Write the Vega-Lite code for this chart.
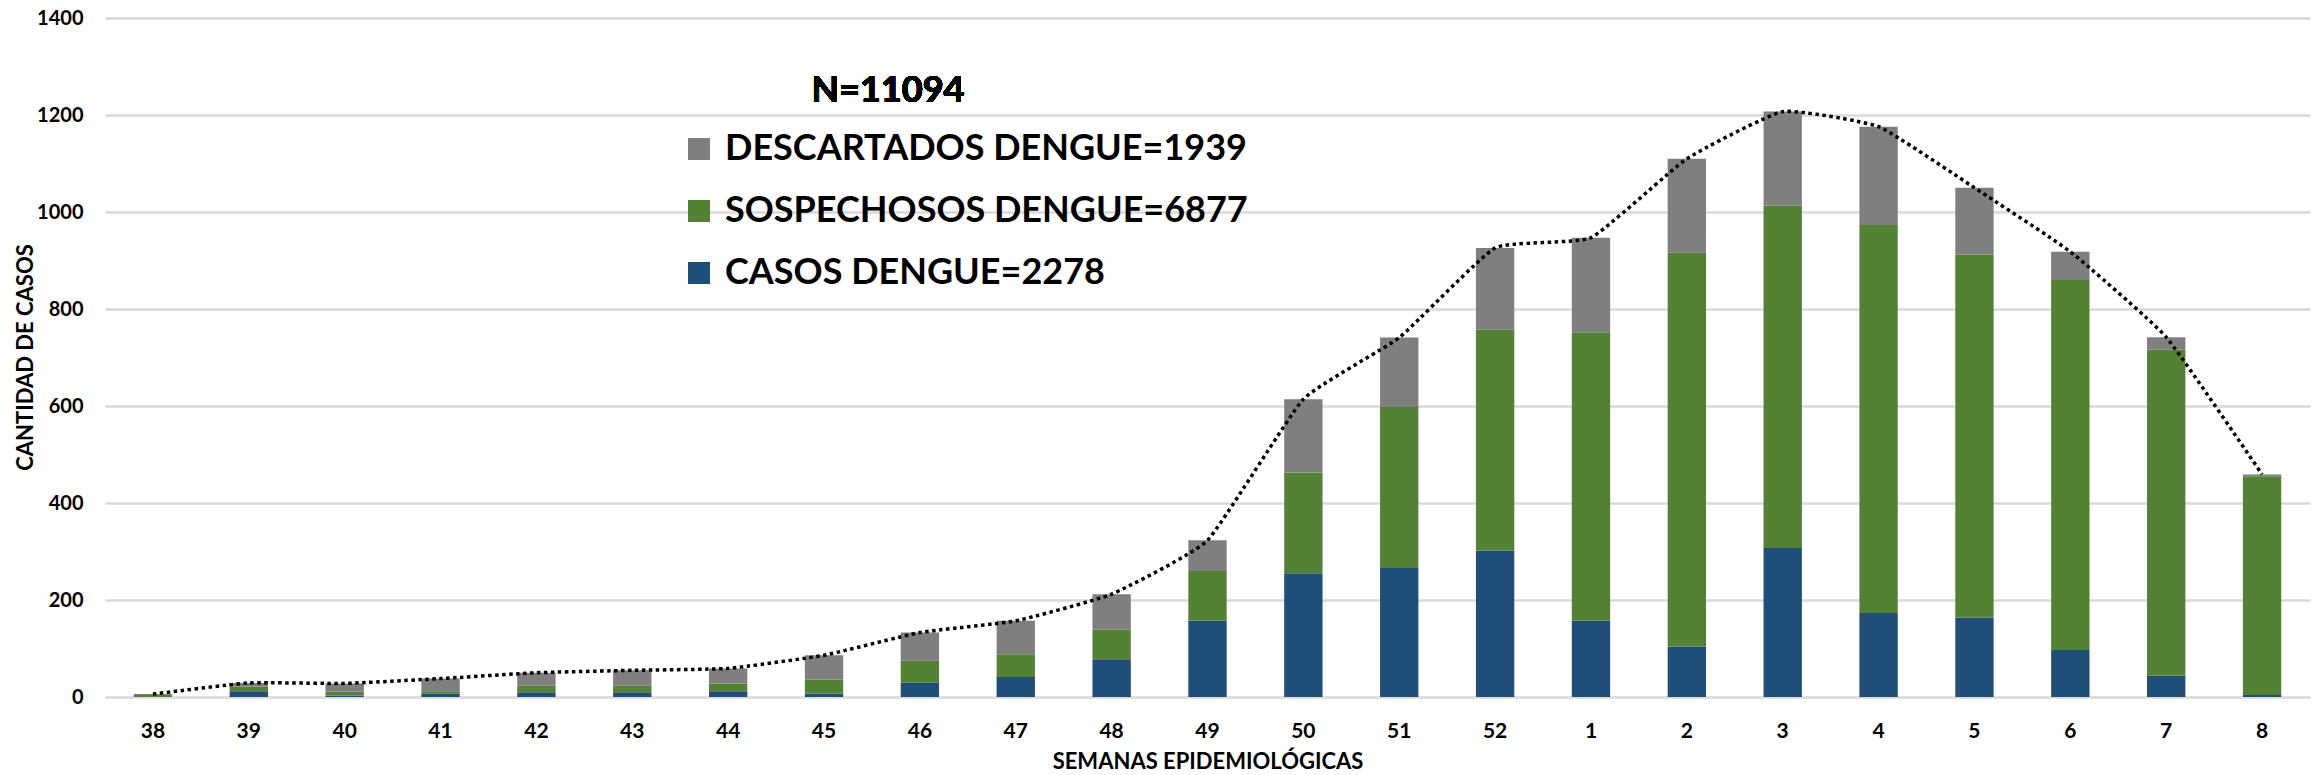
{
  "$schema": "https://vega.github.io/schema/vega-lite/v6.json",
  "width": 2205,
  "height": 679,
  "autosize": {"type": "none"},
  "padding": {"left": 105, "top": 18, "right": 3, "bottom": 78},
  "background": "white",
  "config": {
    "view": {"stroke": null},
    "font": "Lato",
    "axisX": {
      "labelFont": "Lato", "labelFontWeight": "bold", "labelFontSize": 21, "labelColor": "#000000",
      "labelPadding": 23, "ticks": false, "domain": false, "grid": false, "labelAngle": 0,
      "titleFont": "Lato", "titleFontWeight": "bold", "titleFontSize": 22, "titleColor": "#000000",
      "titleBaseline": "alphabetic", "titleY": 71
    },
    "axisY": {
      "labelFont": "Lato", "labelFontWeight": "bold", "labelFontSize": 20, "labelColor": "#000000",
      "labelPadding": 22, "ticks": false, "domain": false, "grid": true, "gridColor": "#d9d9d9", "gridWidth": 2.5,
      "titleFont": "Lato", "titleFontWeight": "bold", "titleFontSize": 22, "titleColor": "#000000",
      "titleX": -80, "titleY": 339, "titleBaseline": "middle", "titleAlign": "center"
    },
    "legend": {
      "orient": "none", "legendX": 576, "legendY": 113, "symbolType": "square", "symbolSize": 484,
      "symbolStrokeWidth": 0, "symbolOpacity": 1, "labelFont": "Lato", "labelFontWeight": "bold", "labelFontSize": 36,
      "labelColor": "#000000", "labelOffset": 8, "rowPadding": 26, "padding": 0, "labelLimit": 1000
    }
  },
  "data": {
    "values": [
      {"semana": "38", "tipo": "CASOS DENGUE=2278", "orden": 1, "casos": 0},
      {"semana": "38", "tipo": "SOSPECHOSOS DENGUE=6877", "orden": 2, "casos": 4},
      {"semana": "38", "tipo": "DESCARTADOS DENGUE=1939", "orden": 3, "casos": 2},
      {"semana": "39", "tipo": "CASOS DENGUE=2278", "orden": 1, "casos": 12},
      {"semana": "39", "tipo": "SOSPECHOSOS DENGUE=6877", "orden": 2, "casos": 9},
      {"semana": "39", "tipo": "DESCARTADOS DENGUE=1939", "orden": 3, "casos": 8},
      {"semana": "40", "tipo": "CASOS DENGUE=2278", "orden": 1, "casos": 3},
      {"semana": "40", "tipo": "SOSPECHOSOS DENGUE=6877", "orden": 2, "casos": 8},
      {"semana": "40", "tipo": "DESCARTADOS DENGUE=1939", "orden": 3, "casos": 17},
      {"semana": "41", "tipo": "CASOS DENGUE=2278", "orden": 1, "casos": 7},
      {"semana": "41", "tipo": "SOSPECHOSOS DENGUE=6877", "orden": 2, "casos": 5},
      {"semana": "41", "tipo": "DESCARTADOS DENGUE=1939", "orden": 3, "casos": 26},
      {"semana": "42", "tipo": "CASOS DENGUE=2278", "orden": 1, "casos": 10},
      {"semana": "42", "tipo": "SOSPECHOSOS DENGUE=6877", "orden": 2, "casos": 13},
      {"semana": "42", "tipo": "DESCARTADOS DENGUE=1939", "orden": 3, "casos": 27},
      {"semana": "43", "tipo": "CASOS DENGUE=2278", "orden": 1, "casos": 10},
      {"semana": "43", "tipo": "SOSPECHOSOS DENGUE=6877", "orden": 2, "casos": 13},
      {"semana": "43", "tipo": "DESCARTADOS DENGUE=1939", "orden": 3, "casos": 32},
      {"semana": "44", "tipo": "CASOS DENGUE=2278", "orden": 1, "casos": 12},
      {"semana": "44", "tipo": "SOSPECHOSOS DENGUE=6877", "orden": 2, "casos": 16},
      {"semana": "44", "tipo": "DESCARTADOS DENGUE=1939", "orden": 3, "casos": 31},
      {"semana": "45", "tipo": "CASOS DENGUE=2278", "orden": 1, "casos": 7},
      {"semana": "45", "tipo": "SOSPECHOSOS DENGUE=6877", "orden": 2, "casos": 29},
      {"semana": "45", "tipo": "DESCARTADOS DENGUE=1939", "orden": 3, "casos": 50},
      {"semana": "46", "tipo": "CASOS DENGUE=2278", "orden": 1, "casos": 30},
      {"semana": "46", "tipo": "SOSPECHOSOS DENGUE=6877", "orden": 2, "casos": 45},
      {"semana": "46", "tipo": "DESCARTADOS DENGUE=1939", "orden": 3, "casos": 58},
      {"semana": "47", "tipo": "CASOS DENGUE=2278", "orden": 1, "casos": 41},
      {"semana": "47", "tipo": "SOSPECHOSOS DENGUE=6877", "orden": 2, "casos": 47},
      {"semana": "47", "tipo": "DESCARTADOS DENGUE=1939", "orden": 3, "casos": 69},
      {"semana": "48", "tipo": "CASOS DENGUE=2278", "orden": 1, "casos": 78},
      {"semana": "48", "tipo": "SOSPECHOSOS DENGUE=6877", "orden": 2, "casos": 61},
      {"semana": "48", "tipo": "DESCARTADOS DENGUE=1939", "orden": 3, "casos": 73},
      {"semana": "49", "tipo": "CASOS DENGUE=2278", "orden": 1, "casos": 157},
      {"semana": "49", "tipo": "SOSPECHOSOS DENGUE=6877", "orden": 2, "casos": 103},
      {"semana": "49", "tipo": "DESCARTADOS DENGUE=1939", "orden": 3, "casos": 63},
      {"semana": "50", "tipo": "CASOS DENGUE=2278", "orden": 1, "casos": 255},
      {"semana": "50", "tipo": "SOSPECHOSOS DENGUE=6877", "orden": 2, "casos": 208},
      {"semana": "50", "tipo": "DESCARTADOS DENGUE=1939", "orden": 3, "casos": 151},
      {"semana": "51", "tipo": "CASOS DENGUE=2278", "orden": 1, "casos": 266},
      {"semana": "51", "tipo": "SOSPECHOSOS DENGUE=6877", "orden": 2, "casos": 332},
      {"semana": "51", "tipo": "DESCARTADOS DENGUE=1939", "orden": 3, "casos": 143},
      {"semana": "52", "tipo": "CASOS DENGUE=2278", "orden": 1, "casos": 302},
      {"semana": "52", "tipo": "SOSPECHOSOS DENGUE=6877", "orden": 2, "casos": 455},
      {"semana": "52", "tipo": "DESCARTADOS DENGUE=1939", "orden": 3, "casos": 169},
      {"semana": "1", "tipo": "CASOS DENGUE=2278", "orden": 1, "casos": 157},
      {"semana": "1", "tipo": "SOSPECHOSOS DENGUE=6877", "orden": 2, "casos": 595},
      {"semana": "1", "tipo": "DESCARTADOS DENGUE=1939", "orden": 3, "casos": 195},
      {"semana": "2", "tipo": "CASOS DENGUE=2278", "orden": 1, "casos": 104},
      {"semana": "2", "tipo": "SOSPECHOSOS DENGUE=6877", "orden": 2, "casos": 812},
      {"semana": "2", "tipo": "DESCARTADOS DENGUE=1939", "orden": 3, "casos": 194},
      {"semana": "3", "tipo": "CASOS DENGUE=2278", "orden": 1, "casos": 307},
      {"semana": "3", "tipo": "SOSPECHOSOS DENGUE=6877", "orden": 2, "casos": 706},
      {"semana": "3", "tipo": "DESCARTADOS DENGUE=1939", "orden": 3, "casos": 194},
      {"semana": "4", "tipo": "CASOS DENGUE=2278", "orden": 1, "casos": 173},
      {"semana": "4", "tipo": "SOSPECHOSOS DENGUE=6877", "orden": 2, "casos": 800},
      {"semana": "4", "tipo": "DESCARTADOS DENGUE=1939", "orden": 3, "casos": 203},
      {"semana": "5", "tipo": "CASOS DENGUE=2278", "orden": 1, "casos": 164},
      {"semana": "5", "tipo": "SOSPECHOSOS DENGUE=6877", "orden": 2, "casos": 748},
      {"semana": "5", "tipo": "DESCARTADOS DENGUE=1939", "orden": 3, "casos": 138},
      {"semana": "6", "tipo": "CASOS DENGUE=2278", "orden": 1, "casos": 97},
      {"semana": "6", "tipo": "SOSPECHOSOS DENGUE=6877", "orden": 2, "casos": 763},
      {"semana": "6", "tipo": "DESCARTADOS DENGUE=1939", "orden": 3, "casos": 58},
      {"semana": "7", "tipo": "CASOS DENGUE=2278", "orden": 1, "casos": 44},
      {"semana": "7", "tipo": "SOSPECHOSOS DENGUE=6877", "orden": 2, "casos": 672},
      {"semana": "7", "tipo": "DESCARTADOS DENGUE=1939", "orden": 3, "casos": 26},
      {"semana": "8", "tipo": "CASOS DENGUE=2278", "orden": 1, "casos": 4},
      {"semana": "8", "tipo": "SOSPECHOSOS DENGUE=6877", "orden": 2, "casos": 451},
      {"semana": "8", "tipo": "DESCARTADOS DENGUE=1939", "orden": 3, "casos": 4}
    ]
  },
  "encoding": {
    "x": {
      "field": "semana", "type": "ordinal", "title": "SEMANAS EPIDEMIOLÓGICAS",
      "scale": {
        "domain": ["38","39","40","41","42","43","44","45","46","47","48","49","50","51","52","1","2","3","4","5","6","7","8"],
        "paddingInner": 0.6, "paddingOuter": 0.3
      }
    }
  },
  "layer": [
    {
      "mark": {"type": "bar"},
      "encoding": {
        "y": {
          "field": "casos", "type": "quantitative", "stack": "zero", "title": "CANTIDAD DE CASOS",
          "scale": {"domain": [0, 1400], "nice": false},
          "axis": {"values": [0, 200, 400, 600, 800, 1000, 1200, 1400], "format": "d"}
        },
        "color": {
          "field": "tipo", "type": "nominal",
          "scale": {
            "domain": ["DESCARTADOS DENGUE=1939", "SOSPECHOSOS DENGUE=6877", "CASOS DENGUE=2278"],
            "range": ["#7f7f7f", "#548235", "#1f4e79"]
          },
          "legend": {"title": null}
        },
        "order": {"field": "orden", "type": "quantitative"}
      }
    },
    {
      "transform": [{"aggregate": [{"op": "sum", "field": "casos", "as": "total"}], "groupby": ["semana"]}],
      "mark": {"type": "line", "interpolate": "cardinal", "tension": 0.6, "color": "#000000", "strokeWidth": 3.5, "strokeDash": [3.5, 3.5]},
      "encoding": {
        "y": {"field": "total", "type": "quantitative", "title": "CANTIDAD DE CASOS", "scale": {"domain": [0, 1400], "nice": false}, "axis": {"values": [0, 200, 400, 600, 800, 1000, 1200, 1400], "format": "d"}},
        "order": {"value": null}
      }
    },
    {
      "mark": {"type": "text", "font": "Lato", "fontWeight": "bold", "fontSize": 36, "color": "#000000", "align": "center", "baseline": "middle", "dx": -32},
      "encoding": {
        "x": {"datum": "46", "type": "ordinal"},
        "y": {"datum": 1249, "type": "quantitative"},
        "text": {"value": "N=11094"}
      }
    }
  ]
}
